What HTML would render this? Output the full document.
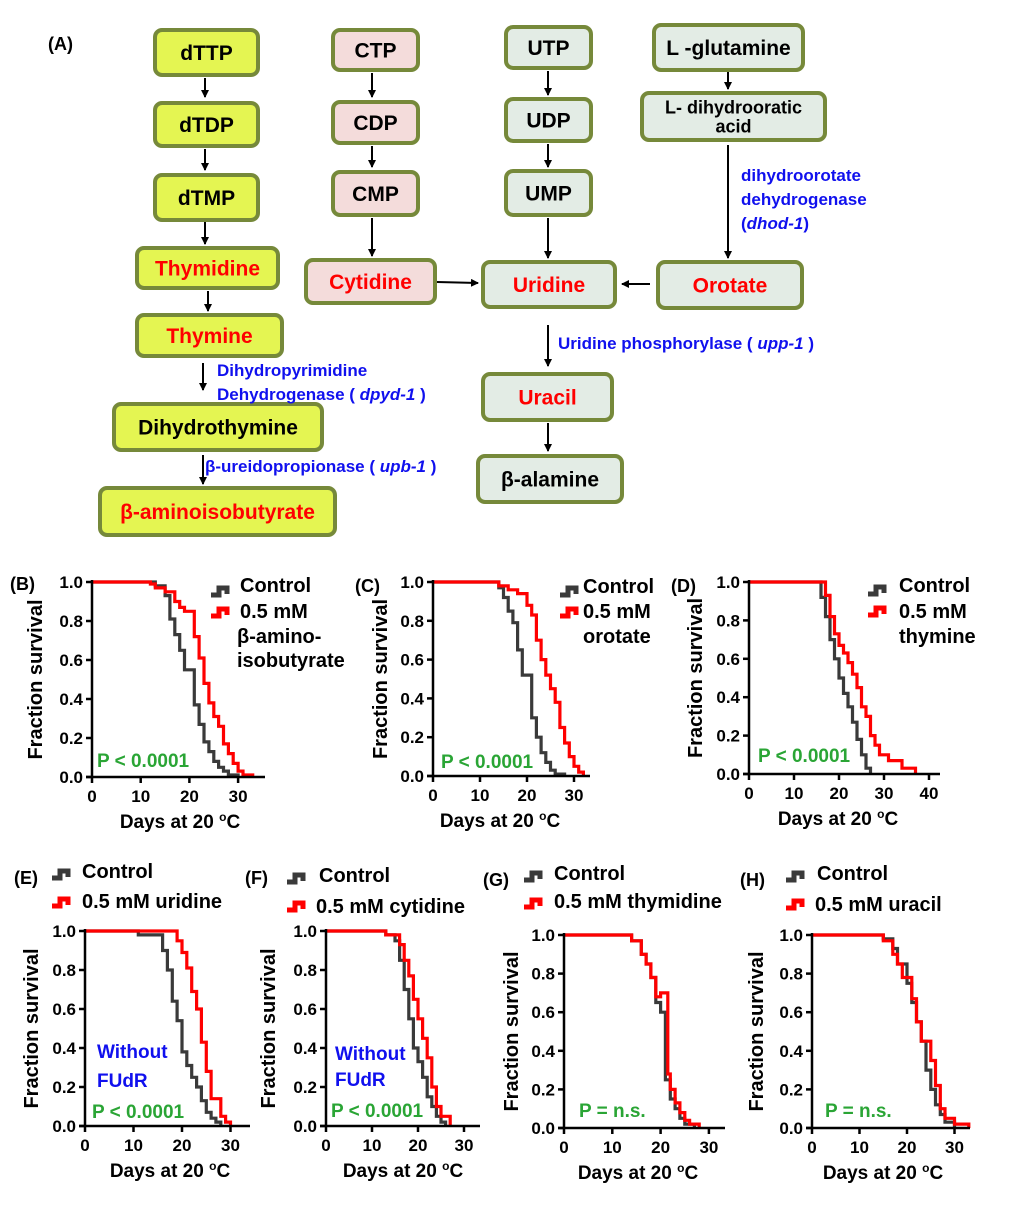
<!DOCTYPE html>
<html><head><meta charset="utf-8"><style>
body{margin:0;background:#fff}
svg{display:block;font-family:"Liberation Sans",sans-serif;font-weight:bold}
</style></head><body>
<svg id="s" width="1020" height="1206" viewBox="0 0 1020 1206" xmlns="http://www.w3.org/2000/svg">
<defs><marker id="ah" markerWidth="8" markerHeight="8" refX="7" refY="4" orient="auto" markerUnits="userSpaceOnUse"><path d="M0,0 L8,4 L0,8 Z" fill="#000"/></marker></defs>
<text x="48" y="50" font-size="18">(A)</text>
</svg>
<script>
const s=document.getElementById('s');const NS='http://www.w3.org/2000/svg';
function el(t,a,txt){const e=document.createElementNS(NS,t);for(const k in a)e.setAttribute(k,a[k]);if(txt!==undefined)e.innerHTML=txt;s.appendChild(e);return e;}
const Y='#e4f552',P='#f4dcdb',G='#e3ece5',ST='#76893a';
function box(x1,y1,x2,y2,fill,lines,color,fs){el('rect',{x:x1,y:y1,width:x2-x1,height:y2-y1,rx:7,fill:fill,stroke:ST,'stroke-width':4});
 const cx=(x1+x2)/2,cy=(y1+y2)/2;fs=fs||21;
 if(lines.length==1)el('text',{x:cx,y:cy+fs*0.36,'font-size':fs,'text-anchor':'middle',fill:color},lines[0]);
 else lines.forEach((l,i)=>el('text',{x:cx,y:cy+fs*0.36+(i-0.5)*fs*1.05,'font-size':fs,'text-anchor':'middle',fill:color},l));}
function arr(x1,y1,x2,y2){el('line',{x1,y1,x2,y2,stroke:'#000','stroke-width':2,'marker-end':'url(#ah)'});}
box(155,30,258,75,Y,['dTTP'],'#000');box(155,103,258,146,Y,['dTDP'],'#000');box(155,175,258,220,Y,['dTMP'],'#000');
box(137,248,278,288,Y,['Thymidine'],'#f00');box(137,315,282,356,Y,['Thymine'],'#f00');
box(114,404,322,450,Y,['Dihydrothymine'],'#000');box(100,488,335,535,Y,['β-aminoisobutyrate'],'#f00');
box(333,30,418,70,P,['CTP'],'#000');box(333,102,418,143,P,['CDP'],'#000');box(333,172,418,215,P,['CMP'],'#000');
box(306,260,435,303,P,['Cytidine'],'#f00');
box(506,27,591,68,G,['UTP'],'#000');box(506,99,591,141,G,['UDP'],'#000');box(506,171,591,215,G,['UMP'],'#000');
box(483,262,615,307,G,['Uridine'],'#f00');box(483,374,612,420,G,['Uracil'],'#f00');box(478,456,622,502,G,['β-alamine'],'#000');
box(654,25,803,70,G,['L -glutamine'],'#000');box(642,93,825,140,G,['L- dihydrooratic','acid'],'#000',18);
box(658,262,802,308,G,['Orotate'],'#f00');
arr(205,78,205,97);arr(205,149,205,170);arr(205,222,205,244);arr(208,291,208,311);arr(203,363,203,390);arr(203,455,203,484);
arr(372,73,372,97);arr(372,146,372,167);arr(372,218,372,256);arr(437,282,478,283);
arr(548,71,548,95);arr(548,144,548,167);arr(548,218,548,258);arr(548,325,548,366);arr(548,423,548,451);
arr(728,72,728,89);arr(728,145,728,258);arr(650,284,622,284);
const B='#1010ee';
function bt(x,y,h){el('text',{x,y,'font-size':17,fill:B},h);}
bt(741,181,'dihydroorotate');bt(741,205,'dehydrogenase');bt(741,229,'(<tspan font-style="italic">dhod-1</tspan>)');
bt(558,349,'Uridine phosphorylase ( <tspan font-style="italic">upp-1</tspan> )');
bt(217,376,'Dihydropyrimidine');bt(217,400,'Dehydrogenase ( <tspan font-style="italic">dpyd-1</tspan> )');
bt(205,472,'β-ureidopropionase ( <tspan font-style="italic">upb-1</tspan> )');

function chart(o){
 const {x0,yb,yt,ppd,xend,ticks}=o;
 const ys=v=>yb-v*(yb-yt);
 [[o.c,'#3a3a3a'],[o.r,'#f00']].forEach(([pts,col])=>{
  let d='M'+x0+','+ys(1);
  pts.forEach(([t,v])=>{const x=x0+t*ppd;d+=' H'+x.toFixed(1)+' V'+ys(v).toFixed(1);});
  el('path',{d,fill:'none',stroke:col,'stroke-width':3.2});
 });
 el('line',{x1:x0,y1:yt-2,x2:x0,y2:yb,stroke:'#000','stroke-width':2.5});
 el('line',{x1:x0-6,y1:yb,x2:xend,y2:yb,stroke:'#000','stroke-width':2.5});
 for(let i=0;i<=5;i++){const y=ys(i/5);el('line',{x1:x0-6,y1:y,x2:x0,y2:y,stroke:'#000','stroke-width':2.5});
  el('text',{x:x0-9,y:y+6,'font-size':17,'text-anchor':'end'},(i/5).toFixed(1));}
 ticks.forEach(t=>{const x=x0+t*ppd;el('line',{x1:x,y1:yb,x2:x,y2:yb+6,stroke:'#000','stroke-width':2.5});
  el('text',{x,y:yb+25,'font-size':17,'text-anchor':'middle'},t);});
 el('text',{x:o.xl,y:yb+51,'font-size':19,'text-anchor':'middle'},'Days at 20 <tspan font-size="12" dy="-7">o</tspan><tspan dy="7">C</tspan>');
 const cy=(yb+yt)/2;el('text',{x:o.yl,y:cy,'font-size':20,'text-anchor':'middle',transform:`rotate(-90 ${o.yl} ${cy})`},'Fraction survival');
 el('text',{x:o.lab[1],y:o.lab[2],'font-size':18},o.lab[0]);
 o.leg.forEach(([ix,iy,col])=>{el('path',{d:`M${ix},${iy+3} H${ix+8} V${iy-4} H${ix+16} V${iy+2}`,fill:'none',stroke:col,'stroke-width':5});});
 o.lt.forEach(([tx,ty,t])=>el('text',{x:tx,y:ty,'font-size':20},t));
 o.ex.forEach(([tx,ty,t,col])=>el('text',{x:tx,y:ty,'font-size':19,fill:col},t));
}
const GR='#2aa535';
chart({x0:92,yb:777,yt:582,ppd:4.87,xend:265,ticks:[0,10,20,30],xl:180,yl:42,lab:['(B)',10,590],
 c:[[13,.98],[15,.93],[16,.81],[17,.73],[18,.65],[19,.55],[21,.37],[22,.27],[23,.18],[24,.13],[25,.08],[26,.05],[27,.03],[28,.01],[30,0]],
 r:[[12,.99],[13,.97],[15,.95],[17,.9],[18,.87],[19,.85],[21,.72],[22,.61],[23,.48],[24,.38],[25,.31],[26,.26],[27,.17],[28,.12],[29,.07],[30,.03],[31,.01],[33,0]],
 leg:[[211,592,'#3a3a3a'],[211,613,'#f00']],lt:[[240,592,'Control'],[240,618,'0.5 mM'],[237,643,'β-amino-'],[237,667,'isobutyrate']],
 ex:[[97,767,'P < 0.0001',GR]]});
chart({x0:433,yb:776,yt:582,ppd:4.7,xend:590,ticks:[0,10,20,30],xl:500,yl:387,lab:['(C)',355,592],
 c:[[14,.97],[15,.92],[16,.85],[17,.79],[18,.65],[19,.52],[21,.3],[22,.2],[23,.12],[24,.07],[25,.03],[26,.01],[28,0]],
 r:[[14,.98],[16,.96],[18,.94],[20,.88],[21,.83],[22,.7],[23,.6],[24,.52],[25,.45],[26,.38],[27,.25],[28,.17],[29,.1],[30,.05],[31,.02],[32,0]],
 leg:[[560,592,'#3a3a3a'],[560,613,'#f00']],lt:[[583,593,'Control'],[583,618,'0.5 mM'],[583,643,'orotate']],
 ex:[[441,768,'P < 0.0001',GR]]});
chart({x0:749,yb:774,yt:582,ppd:4.5,xend:940,ticks:[0,10,20,30,40],xl:838,yl:702,lab:['(D)',671,592],
 c:[[16,.92],[17,.82],[18,.7],[19,.6],[20,.5],[21,.42],[22,.35],[23,.27],[24,.18],[25,.1],[26,.03],[27,0]],
 r:[[17,.93],[18,.82],[19,.73],[20,.67],[21,.63],[22,.58],[23,.52],[24,.45],[25,.35],[26,.3],[27,.2],[28,.15],[29,.1],[31,.07],[34,.03],[37,0]],
 leg:[[868,591,'#3a3a3a'],[868,612,'#f00']],lt:[[899,592,'Control'],[899,618,'0.5 mM'],[899,643,'thymine']],
 ex:[[758,762,'P < 0.0001',GR]]});
chart({x0:85,yb:1126,yt:931,ppd:4.85,xend:250,ticks:[0,10,20,30],xl:170,yl:38,lab:['(E)',14,884],
 c:[[11,.98],[16,.9],[17,.8],[18,.64],[19,.54],[20,.38],[21,.31],[22,.25],[23,.2],[24,.13],[25,.07],[26,.04],[27,.02],[28,0]],
 r:[[19,.95],[20,.89],[21,.81],[22,.69],[23,.6],[24,.43],[25,.28],[26,.14],[28,.05],[29,.02],[30,0]],
 leg:[[52,875,'#3a3a3a'],[52,903,'#f00']],lt:[[82,878,'Control'],[82,908,'0.5 mM uridine']],
 ex:[[97,1058,'Without',B],[97,1087,'FUdR',B],[92,1118,'P < 0.0001',GR]]});
chart({x0:326,yb:1126,yt:931,ppd:4.6,xend:480,ticks:[0,10,20,30],xl:403,yl:275,lab:['(F)',245,884],
 c:[[13,.98],[15,.95],[16,.85],[17,.7],[18,.55],[19,.4],[20,.33],[21,.25],[22,.15],[23,.1],[24,.05],[25,.02],[26,0]],
 r:[[13,.98],[16,.93],[17,.85],[18,.77],[19,.65],[20,.55],[21,.45],[22,.35],[23,.2],[24,.1],[25,.05],[27,0]],
 leg:[[287,879,'#3a3a3a'],[287,907,'#f00']],lt:[[319,882,'Control'],[316,913,'0.5 mM cytidine']],
 ex:[[335,1060,'Without',B],[335,1086,'FUdR',B],[331,1117,'P < 0.0001',GR]]});
chart({x0:564,yb:1128,yt:935,ppd:4.83,xend:725,ticks:[0,10,20,30],xl:638,yl:518,lab:['(G)',483,886],
 c:[[14,.97],[16,.9],[17,.85],[18,.78],[19,.65],[20,.6],[21,.25],[22,.15],[23,.1],[24,.05],[25,.02],[27,0]],
 r:[[14,.97],[16,.9],[17,.85],[18,.78],[19,.68],[20,.7],[21.5,.28],[22,.2],[23,.13],[24,.08],[25,.04],[26,.02],[28,0]],
 leg:[[524,877,'#3a3a3a'],[524,904,'#f00']],lt:[[554,880,'Control'],[554,908,'0.5 mM  thymidine']],
 ex:[[579,1117,'P = n.s.',GR]]});
chart({x0:812,yb:1128,yt:935,ppd:4.75,xend:970,ticks:[0,10,20,30],xl:883,yl:763,lab:['(H)',740,886],
 c:[[15,.98],[17,.93],[18,.85],[20,.75],[21,.65],[22,.55],[23,.45],[24,.3],[25,.2],[26,.12],[27,.07],[28,.03],[30,0]],
 r:[[15,.97],[17,.9],[18,.85],[19,.78],[21,.67],[22,.55],[23,.45],[25,.35],[26,.22],[27,.1],[28,.05],[30,.02],[33,0]],
 leg:[[786,877,'#3a3a3a'],[786,905,'#f00']],lt:[[817,880,'Control'],[815,911,'0.5 mM uracil']],
 ex:[[825,1117,'P = n.s.',GR]]});
</script>
</body></html>
